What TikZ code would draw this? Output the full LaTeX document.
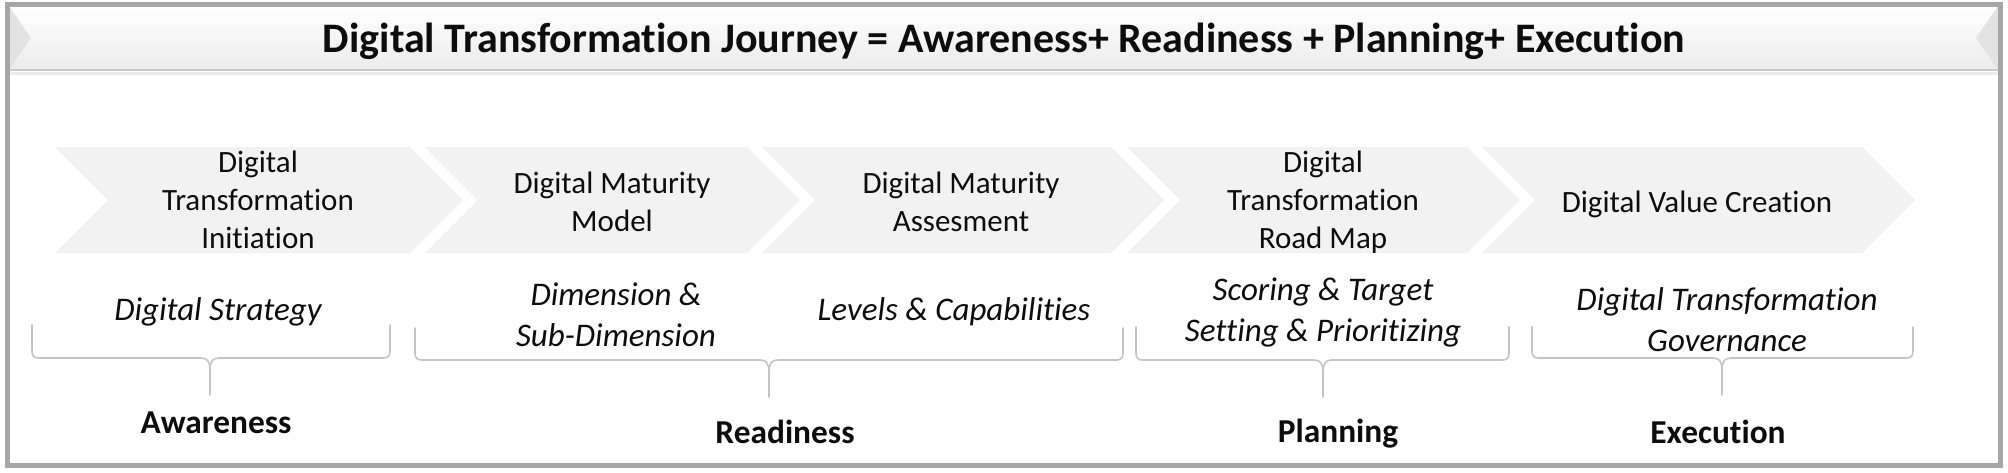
\documentclass[tikz,border=0pt]{standalone}
\usepackage{fontspec}
\setmainfont[Ligatures={NoCommon,NoRare,NoContextual}]{Carlito}
\definecolor{framegray}{HTML}{A6A6A6}
\definecolor{chevfill}{HTML}{F2F2F2}
\definecolor{bracegray}{HTML}{C4C4C4}
\definecolor{bandgray}{HTML}{EBEBEB}
\definecolor{bandend}{HTML}{E3E3E3}
\definecolor{bandline}{HTML}{CACACA}
\definecolor{inkblack}{HTML}{0D0D0D}
\newcommand{\mlines}[1]{\begin{tabular}[t]{@{}c@{}}#1\end{tabular}}
\newcommand{\chevshape}[2]{% left x, corner x
  \fill[chevron] (#1,147) -- (#2,147) -- (#2+53,200) -- (#2,253) -- (#1,253) -- (#1+53,200) -- cycle;}
\newcommand{\phasebrace}[6]{% x1, x2, xtip, ytop, yh, ybottom
  \draw[bracepath] (#1,#4) -- (#1,#5-7) .. controls (#1,#5-2) and (#1+2,#5) .. (#1+7,#5)
    -- (#3-9,#5) .. controls (#3-3,#5) and (#3,#5+3) .. (#3,#5+12) -- (#3,#6);
  \draw[bracepath] (#3,#5+12) .. controls (#3,#5+3) and (#3+3,#5) .. (#3+9,#5)
    -- (#2-7,#5) .. controls (#2-2,#5) and (#2,#5-2) .. (#2,#5-7) -- (#2,#4);}
\begin{document}
\begin{tikzpicture}[x=0.5pt,y=-0.5pt,
  chevron/.style={fill=chevfill,draw=none},
  titletext/.style={anchor=base,inner sep=0pt,font=\fontsize{21}{25}\selectfont\bfseries,text=inkblack},
  stagetext/.style={anchor=base,inner sep=0pt,font=\fontsize{15.5}{19}\selectfont,text=inkblack},
  topictext/.style={anchor=base,inner sep=0pt,font=\fontsize{16.5}{20.5}\selectfont\itshape,text=inkblack},
  phasetext/.style={anchor=base,inner sep=0pt,font=\fontsize{16.7}{20}\selectfont\bfseries,text=inkblack},
  bracepath/.style={draw=bracegray,line width=0.8pt,line join=round,line cap=round},
]
\useasboundingbox (0,0) rectangle (2008,472);
\fill[white] (0,0) rectangle (2008,472);
% title band
\shade[top color=white,bottom color=bandgray] (9,6) rectangle (1998,70);
\fill[bandend] (9,6) -- (31,38) -- (9,70) -- cycle;
\fill[bandend] (1998,6) -- (1976,38) -- (1998,70) -- cycle;
\draw[bandline,line width=1pt] (9,70) -- (1998,70);
\draw[bandgray,line width=1.5pt] (9,73) -- (1998,73);
\node[titletext] (title) at (1004,52) {Digital Transformation Journey = Awareness+ Readiness + Planning+ Execution};
% chevrons
\chevshape{55}{410}
\chevshape{425}{747}
\chevshape{762}{1111}
\chevshape{1127}{1467}
\chevshape{1482}{1862}
\node[stagetext] (s1) at (258,172) {\mlines{Digital\\Transformation\\Initiation}};
\node[stagetext] (s2) at (612,193) {\mlines{Digital Maturity\\Model}};
\node[stagetext] (s3) at (961,193) {\mlines{Digital Maturity\\Assesment}};
\node[stagetext] (s4) at (1323,172) {\mlines{Digital\\Transformation\\Road Map}};
\node[stagetext] (s5) at (1697,212) {Digital Value Creation};
% topics
\node[topictext] (t1) at (218,320) {Digital Strategy};
\node[topictext] (t2) at (616,305) {\mlines{Dimension \&\\Sub-Dimension}};
\node[topictext] (t3) at (954,320) {Levels \& Capabilities};
\node[topictext] (t4) at (1323,300) {\mlines{Scoring \& Target\\Setting \& Prioritizing}};
\node[topictext] (t5) at (1727,310) {\mlines{Digital Transformation\\Governance}};
% braces
\phasebrace{32}{390}{210}{325}{358}{395}
\phasebrace{415}{1123}{769}{328}{360}{397}
\phasebrace{1136}{1509}{1323}{327}{360}{397}
\phasebrace{1532}{1913}{1722}{327}{358}{395}
% phases
\node[phasetext] (p1) at (216,433) {Awareness};
\node[phasetext] (p2) at (785,443) {Readiness};
\node[phasetext] (p3) at (1338,442) {Planning};
\node[phasetext] (p4) at (1718,443) {Execution};
% frame
\draw[framegray,line width=2.5pt] (7,4) rectangle (2000,465);
\end{tikzpicture}
\end{document}
